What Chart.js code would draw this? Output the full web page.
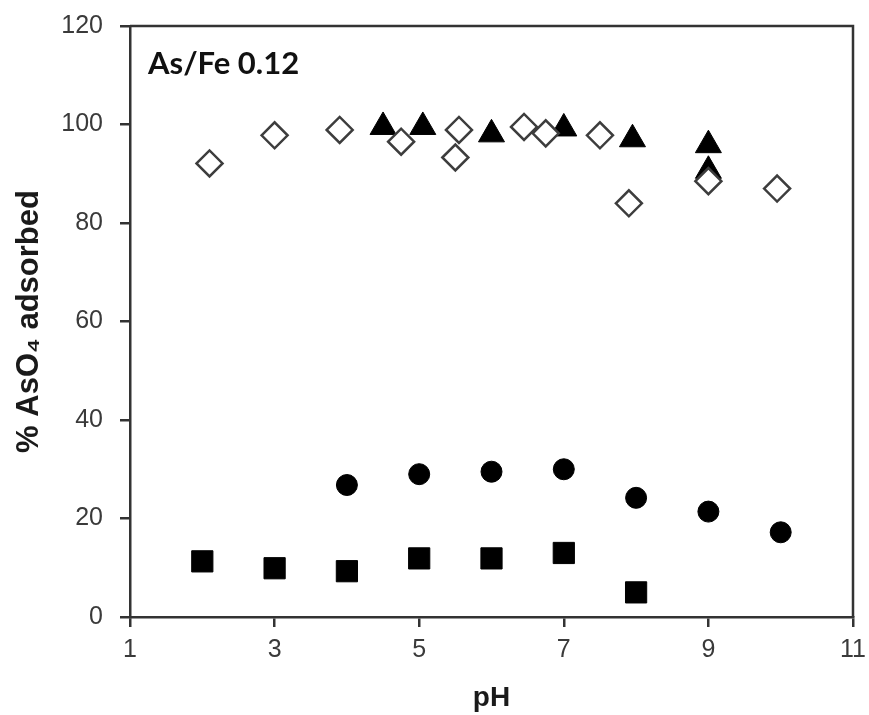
<!DOCTYPE html>
<html>
<head>
<meta charset="utf-8">
<script src="https://cdn.jsdelivr.net/npm/chart.js@4.4.1/dist/chart.umd.min.js"></script>
<style>
  html, body { margin: 0; padding: 0; background: #fff; }
  #wrap { width: 869px; height: 715px; }
</style>
</head>
<body>
<div id="wrap"><canvas id="phChart" width="869" height="715"></canvas></div>
<script>
// --- data ---
const panelLabel = "As/Fe 0.12";
const xTitle = "pH";
const yTitle = "% AsO\u2084 adsorbed";

// open diamonds
const diamondPH = [2.1, 3.0, 3.9, 4.75, 5.55, 5.5, 6.45, 6.75, 7.5, 7.9, 9.0, 9.95];
const diamondPct = [92.1, 97.8, 98.9, 96.5, 98.9, 93.3, 99.5, 98.2, 97.8, 84.0, 88.5, 87.0];

// filled triangles
const trianglePH = [4.5, 5.05, 6.0, 7.0, 7.95, 9.0, 9.0];
const trianglePct = [99.5, 99.5, 98.0, 99.2, 97.0, 95.8, 90.6];

// filled circles
const circlePH = [4, 5, 6, 7, 8, 9, 10];
const circlePct = [26.8, 29.0, 29.5, 30.0, 24.2, 21.4, 17.2];

// filled squares
const squarePH = [2, 3, 4, 5, 6, 7, 8];
const squarePct = [11.3, 9.9, 9.3, 11.9, 11.9, 13.0, 5.0];

const xTicks = [1, 3, 5, 7, 9, 11];
const yTicks = [0, 20, 40, 60, 80, 100, 120];

const toPoints = (xs, ys) => xs.map((x, i) => ({ x: x, y: ys[i] }));

const ink = "#1a1a1a";
const tickInk = "#3a3a3a";
const axisFont = "'Liberation Sans', Arial, sans-serif";

// frame round the plot area + panel label
const framePlugin = {
  id: "frame",
  afterDraw(chart) {
    const { ctx, chartArea: a } = chart;
    ctx.save();
    ctx.strokeStyle = "#333";
    ctx.lineWidth = 2.5;
    ctx.beginPath();
    ctx.moveTo(a.left, a.top);
    ctx.lineTo(a.right, a.top);
    ctx.lineTo(a.right, a.bottom);
    ctx.stroke();
    ctx.fillStyle = "#111";
    ctx.font = "bold 31px Lato, 'Open Sans', sans-serif";
    ctx.textBaseline = "middle";
    ctx.fillText(panelLabel, a.left + 18, 64);
    ctx.restore();
  }
};

new Chart(document.getElementById("phChart"), {
  type: "scatter",
  data: {
    datasets: [
      {
        data: toPoints(diamondPH, diamondPct),
        pointStyle: "rectRot",
        pointRadius: 13,
        backgroundColor: "#fff",
        borderColor: "#3d3d3d",
        borderWidth: 2.5,
      },
      {
        data: toPoints(trianglePH, trianglePct),
        pointStyle: "triangle",
        pointRadius: 15,
        backgroundColor: "#000",
        borderColor: "#000",
        borderWidth: 1,
      },
      {
        data: toPoints(circlePH, circlePct),
        pointStyle: "circle",
        pointRadius: 10.5,
        backgroundColor: "#000",
        borderColor: "#000",
        borderWidth: 1,
      },
      {
        data: toPoints(squarePH, squarePct),
        pointStyle: "rect",
        pointRadius: 15,
        backgroundColor: "#000",
        borderColor: "#000",
        borderWidth: 1,
      },
    ],
  },
  options: {
    responsive: false,
    animation: false,
    layout: { padding: { top: 26, right: 16, left: 0, bottom: 0 } },
    plugins: { legend: { display: false }, tooltip: { enabled: false } },
    scales: {
      x: {
        type: "linear",
        min: 1,
        max: 11,
        afterBuildTicks: (s) => { s.ticks = xTicks.map((v) => ({ value: v })); },
        afterFit: (s) => { s.height = 98; s.paddingLeft = 0; s.paddingRight = 0; },
        grid: { drawOnChartArea: false, drawTicks: true, tickLength: 10, color: "#333", lineWidth: 2.5 },
        border: { display: true, color: "#333", width: 2.5 },
        ticks: { color: tickInk, padding: 8, font: { family: axisFont, size: 25 } },
        title: {
          display: true,
          text: xTitle,
          color: ink,
          padding: { top: 4, bottom: 0 },
          font: { family: axisFont, size: 28, weight: "bold" },
        },
      },
      y: {
        type: "linear",
        min: 0,
        max: 120,
        afterBuildTicks: (s) => { s.ticks = yTicks.map((v) => ({ value: v })); },
        afterFit: (s) => { s.width = 130; s.paddingTop = 0; s.paddingBottom = 0; },
        grid: { drawOnChartArea: false, drawTicks: true, tickLength: 10, color: "#333", lineWidth: 2.5 },
        border: { display: true, color: "#333", width: 2.5 },
        ticks: { color: tickInk, padding: 17, font: { family: axisFont, size: 25 } },
        title: {
          display: true,
          text: yTitle,
          color: ink,
          padding: { top: 11, bottom: 0 },
          font: { family: axisFont, size: 31, weight: "bold" },
        },
      },
    },
  },
  plugins: [framePlugin],
});
</script>
</body>
</html>
